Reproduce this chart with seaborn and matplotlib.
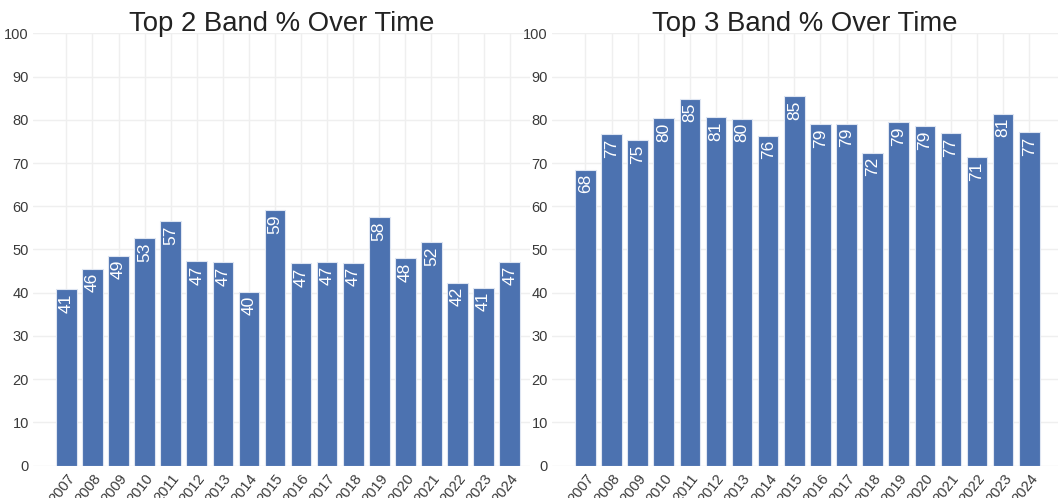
import matplotlib
matplotlib.use("Agg")
import matplotlib.pyplot as plt
import seaborn as sns
import pandas as pd

years = [str(y) for y in range(2007, 2025)]
top2 = [40.9, 45.6, 48.6, 52.6, 56.6, 47.3, 47.1, 40.2, 59.1, 46.8, 47.2, 46.9, 57.5, 48.0, 51.7, 42.3, 41.2, 47.2]
top2_labels = ["41", "46", "49", "53", "57", "47", "47", "40", "59", "47", "47", "47", "58", "48", "52", "42", "41", "47"]
top3 = [68.5, 76.6, 75.3, 80.4, 84.9, 80.6, 80.2, 76.3, 85.4, 79.0, 79.1, 72.4, 79.4, 78.6, 76.9, 71.4, 81.4, 77.1]
top3_labels = ["68", "77", "75", "80", "85", "81", "80", "76", "85", "79", "79", "72", "79", "79", "77", "71", "81", "77"]
titles = ["Top 2 Band % Over Time", "Top 3 Band % Over Time"]
yticks = list(range(0, 101, 10))

sns.set_theme(style="white")
plt.rcParams['font.family'] = ['Liberation Sans', 'DejaVu Sans']

W, H = 1058, 498
fig = plt.figure(figsize=(W / 100, H / 100), dpi=100)

bar_color = "#4C72B0"
text_color = "#3a3a3a"

def panel(rect, values, labels, title, xlim):
    ax = fig.add_axes(rect)
    df = pd.DataFrame({"year": years, "value": values})
    sns.barplot(data=df, x="year", y="value", color=bar_color, width=0.79,
                edgecolor="#dfe6f2", linewidth=0.8, saturation=1, ax=ax, zorder=2)
    ax.set_ylim(0, 100)
    ax.set_xlim(*xlim)
    ax.set_yticks(yticks)
    ax.set_yticklabels([str(t) for t in yticks], fontsize=10.5, color=text_color)
    ax.set_xticks(range(len(years)))
    ax.set_xticklabels(years, rotation=52, ha="right", rotation_mode="anchor",
                       fontsize=10.5, color=text_color)
    ax.tick_params(axis="both", length=0, pad=3)
    ax.tick_params(axis="x", pad=4)
    ax.grid(True, color="#efefef", linewidth=1, zorder=0)
    ax.set_axisbelow(True)
    for s in ax.spines.values():
        s.set_visible(False)
    ax.set_xlabel("")
    ax.set_ylabel("")
    ax.set_title(title, fontsize=19.8, color="#222222", pad=2)
    for i, (v, lab) in enumerate(zip(values, labels)):
        ax.text(i, v - 1.0, lab, rotation=90, ha="center", va="top",
                color="white", fontsize=12.5, zorder=3)
    return ax

bottom = 1 - 465.7 / H
top = 1 - 33.3 / H
h = top - bottom
panel([33 / W, bottom, (530 - 33) / W, h], top2, top2_labels, titles[0], (-1.28, 17.78))
panel([552 / W, bottom, (1058 - 552) / W, h], top3, top3_labels, titles[1], (-1.28, 18.1))

fig.savefig("out.png", dpi=100)
